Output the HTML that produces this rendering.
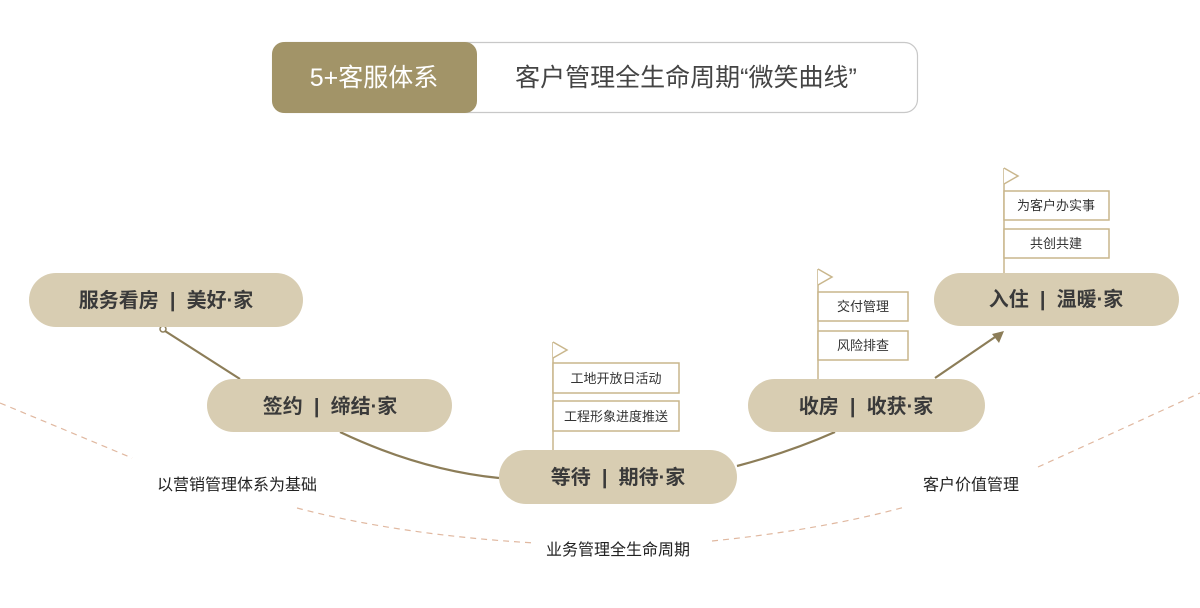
<!DOCTYPE html>
<html><head><meta charset="utf-8"><style>
body{margin:0;background:#fff}
svg text{font-family:"Liberation Sans","Noto Sans CJK SC",sans-serif}
.p{white-space:pre}
</style></head><body>
<svg width="1200" height="603" viewBox="0 0 1200 603" xmlns="http://www.w3.org/2000/svg">
<rect x="272.5" y="42.5" width="645" height="70" rx="13" fill="#fff" stroke="#c8c8c8" stroke-width="1.2"/>
<rect x="272" y="42" width="205" height="71" rx="12" fill="#a29468"/>
<text x="374" y="86" font-size="25" fill="#fff" text-anchor="middle">5+客服体系</text>
<text x="686" y="86" font-size="25" fill="#444" text-anchor="middle">客户管理全生命周期“微笑曲线”</text>

<g fill="none" stroke="#e0b8a0" stroke-width="1.2" stroke-dasharray="6,5">
<path d="M0 403 Q70 432 132 458"/>
<path d="M297 508 Q400 535 535 543"/>
<path d="M712 541 Q820 530 905 507"/>
<path d="M1038 467 Q1120 430 1200 393"/>
</g>
<g font-size="16" fill="#222" text-anchor="middle">
<text x="237" y="490">以营销管理体系为基础</text>
<text x="618" y="555">业务管理全生命周期</text>
<text x="971" y="490">客户价值管理</text>
</g>

<g fill="none" stroke="#8c7d58" stroke-width="2.2">
<path d="M165 331 L240 379"/>
<path d="M340 432 Q420 470 499 478"/>
<path d="M737 466 Q790 452 835 432"/>
<path d="M935 378 L998 335"/>
</g>
<circle cx="163" cy="329" r="3" fill="#fff" stroke="#8c7d58" stroke-width="1.5"/>
<path d="M1004 331 L992 334 L999 343 Z" fill="#8c7d58"/>

<g fill="#d8cdb2">
<rect x="29" y="273" width="274" height="54" rx="27"/>
<rect x="207" y="379" width="245" height="53" rx="26.5"/>
<rect x="499" y="450" width="238" height="54" rx="27"/>
<rect x="748" y="379" width="237" height="53" rx="26.5"/>
<rect x="934" y="273" width="245" height="53" rx="26.5"/>
</g>
<g font-size="20" font-weight="bold" fill="#3a3a3a" text-anchor="middle">
<text class="p" x="166" y="307">服务看房  |  美好·家</text>
<text class="p" x="330" y="413">签约  |  缔结·家</text>
<text class="p" x="618" y="484">等待  |  期待·家</text>
<text class="p" x="866" y="413">收房  |  收获·家</text>
<text class="p" x="1056" y="306">入住  |  温暖·家</text>
</g>

<g fill="#fff" stroke="#c9b68c" stroke-width="1.5">
<line x1="553" y1="342" x2="553" y2="450"/>
<path d="M553 342 L567 350 L553 358" />
<rect x="553" y="363" width="126" height="30"/>
<rect x="553" y="401" width="126" height="30"/>
<line x1="818" y1="269" x2="818" y2="379"/>
<path d="M818 269 L832 277 L818 285"/>
<rect x="818" y="292" width="90" height="29"/>
<rect x="818" y="331" width="90" height="29"/>
<line x1="1004" y1="168" x2="1004" y2="273"/>
<path d="M1004 168 L1018 176 L1004 184"/>
<rect x="1004" y="191" width="105" height="29"/>
<rect x="1004" y="229" width="105" height="29"/>
</g>
<g font-size="13" fill="#333" text-anchor="middle">
<text x="616" y="383">工地开放日活动</text>
<text x="616" y="421">工程形象进度推送</text>
<text x="863" y="311">交付管理</text>
<text x="863" y="350">风险排查</text>
<text x="1056" y="210">为客户办实事</text>
<text x="1056" y="248">共创共建</text>
</g>
</svg>
</body></html>
